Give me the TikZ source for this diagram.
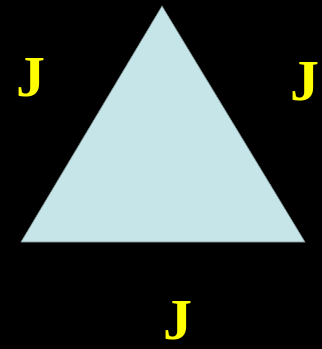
\documentclass[tikz,border=0pt]{standalone}
\usepackage{fontspec}
\setmainfont{Liberation Serif}
\definecolor{tri}{HTML}{C5E5E8}
\definecolor{edge}{HTML}{7A8C8E}
\definecolor{jy}{HTML}{FFFF00}
\begin{document}
\begin{tikzpicture}[x=1pt,y=-1pt,
  lab/.style={text=jy,font=\fontsize{58}{58}\selectfont\bfseries,inner sep=0pt,anchor=center}]
\fill[black] (0,0) rectangle (322,349);
\useasboundingbox (0,0) rectangle (322,349);
\coordinate (t) at (162,6);
\coordinate (bl) at (21,242);
\coordinate (br) at (305,242);
\filldraw[fill=tri,draw=edge,line width=0.6pt] (t) -- (br) -- (bl) -- cycle;
\node[lab] (jl) at (31,78) {J};
\node[lab] (jr) at (305,82) {J};
\node[lab] (jb) at (178,321) {J};
\end{tikzpicture}
\end{document}
